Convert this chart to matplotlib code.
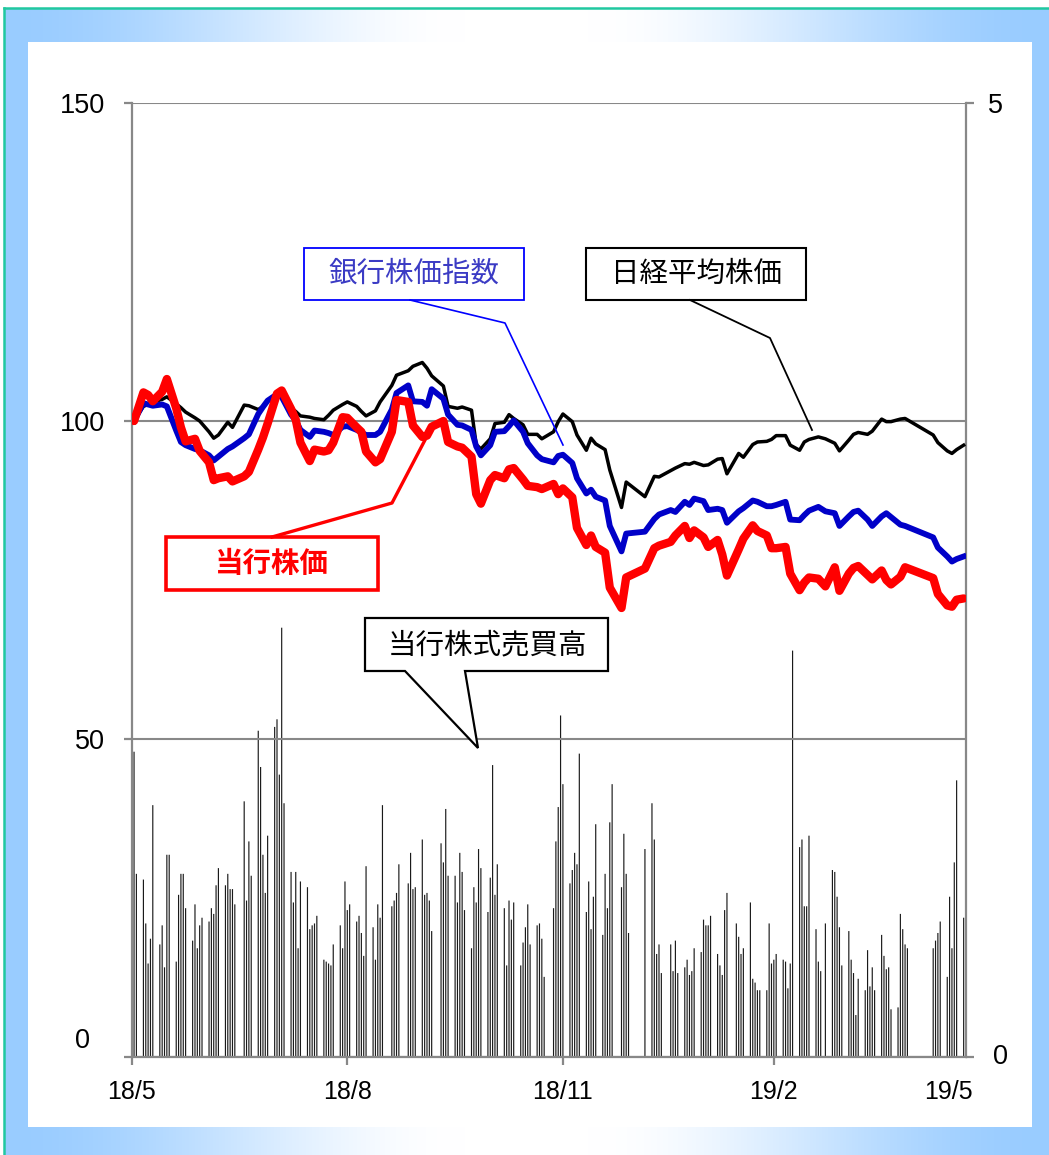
import numpy as np
import pandas as pd
import matplotlib
matplotlib.use("Agg")
import matplotlib.pyplot as plt
from matplotlib.patches import Rectangle, Polygon
from matplotlib.lines import Line2D

plt.rcParams["font.family"] = ["Liberation Sans", "Noto Sans CJK JP", "DejaVu Sans"]

W, H, DPI = 1049, 1155, 100

# ---------------------------------------------------------------- data
# Tokyo Stock Exchange closing days inside the period
tse_holidays = pd.to_datetime([
    "2018-07-16", "2018-09-17", "2018-09-24", "2018-10-08", "2018-11-23",
    "2018-12-24", "2018-12-31", "2019-01-01", "2019-01-02", "2019-01-03",
    "2019-01-14", "2019-02-11", "2019-03-21", "2019-04-29", "2019-04-30",
    "2019-05-01", "2019-05-02", "2019-05-03", "2019-05-06"])
trading_days = pd.bdate_range("2018-05-31", "2019-05-20")
trading_days = trading_days[~trading_days.isin(tse_holidays)]

# daily trading volume of the bank's shares (right axis)
volume = [
    1.60, 0.96,
    0.93, 0.70, 0.49, 0.62, 1.32,
    0.59, 0.69, 0.47, 1.06, 1.06,
    0.50, 0.85, 0.96, 0.96, 0.78,
    0.61, 0.80, 0.57, 0.69, 0.73,
    0.71, 0.78, 0.75, 0.90, 0.99,
    0.90, 0.96, 0.88, 0.88, 0.80,
    1.34, 0.82, 1.13, 0.95,
    1.71, 1.52, 1.06, 0.86, 1.16,
    1.73, 1.77, 1.48, 2.25, 1.33,
    0.97, 0.81, 0.97, 0.57, 0.92,
    0.89, 0.67, 0.69, 0.70, 0.74,
    0.51, 0.50, 0.49, 0.48, 0.59,
    0.69, 0.57, 0.92, 0.77, 0.80,
    0.71, 0.74, 0.65, 0.53, 1.00,
    0.68, 0.51, 0.80, 0.73, 1.32,
    0.79, 0.82, 0.86, 1.01,
    0.91, 1.07, 0.88, 0.89,
    1.14, 0.85, 0.86, 0.82, 0.66,
    1.12, 1.02, 1.30, 0.95,
    0.95, 0.81, 1.07, 0.97, 0.77,
    0.57, 0.89, 0.81, 1.09, 0.99,
    0.76, 0.94, 1.53, 0.85, 1.01,
    0.78, 0.48, 0.82, 0.72, 0.81,
    0.48, 0.60, 0.68, 0.80, 0.59,
    0.69, 0.70, 0.62, 0.42,
    0.78, 1.13, 1.31, 1.79, 1.43,
    0.91, 0.98, 1.07, 1.01, 1.59,
    0.76, 0.92, 0.67, 0.84, 1.22,
    0.64, 0.96, 0.78, 1.23, 1.43,
    0.89, 1.17, 0.96, 0.65,
    1.09,
    1.33, 1.14, 0.54, 0.59, 0.44,
    0.59, 0.45, 0.61, 0.44,
    0.47, 0.51, 0.43, 0.45, 0.57,
    0.55, 0.72, 0.69, 0.69, 0.74,
    0.54, 0.48, 0.43, 0.77, 0.86,
    0.70, 0.63, 0.54, 0.57,
    0.81, 0.41, 0.39, 0.35, 0.35,
    0.35, 0.70, 0.49, 0.51, 0.54,
    0.51, 0.50, 0.36, 0.49, 2.13,
    1.10, 1.14, 0.79, 0.79, 1.16,
    0.67, 0.50, 0.45, 0.70,
    0.98, 0.97, 0.84, 0.68, 0.48,
    0.66, 0.51, 0.44, 0.22, 0.41,
    0.35, 0.56, 0.37, 0.47, 0.35,
    0.64, 0.53, 0.46, 0.47, 0.25,
    0.26, 0.75, 0.67, 0.59, 0.57,
    0.57, 0.61, 0.65, 0.71,
    0.42, 0.84, 0.57, 1.02, 1.45,
    0.73,
]

# price series (2018/5/31 = 100), every second trading day plus the last one
line_days = trading_days[::2].append(trading_days[-1:])

nikkei = [
    100.0, 102.3, 102.6, 103.0, 103.4, 103.8, 102.7, 102.1, 101.4, 100.5,
    100.0, 98.3, 97.3, 97.8, 99.8, 99.0, 102.5, 102.4, 101.8, 102.3,
    103.2, 104.4, 104.4, 102.1, 101.5, 100.8, 100.6, 100.4, 100.2, 100.9,
    101.7, 102.6, 103.0, 102.3, 101.5, 100.8, 101.6, 103.0, 105.6, 107.2,
    107.9, 108.6, 109.2, 108.3, 107.1, 105.5, 102.3, 102.0, 102.2, 101.7,
    96.3, 95.6, 97.2, 99.6, 99.8, 101.0, 100.4, 99.4, 97.9, 97.9,
    97.2, 98.3, 99.9, 101.1, 99.9, 97.8, 95.4, 97.3, 96.4, 95.5,
    92.3, 86.4, 90.4, 88.1, 91.3, 91.2, 92.2, 92.6, 93.3, 93.2,
    93.5, 93.0, 93.1, 94.0, 94.1, 91.7, 94.9, 94.3, 96.3, 96.7,
    96.8, 97.1, 97.7, 97.7, 96.2, 95.4, 96.7, 97.1, 97.5, 97.2,
    96.5, 95.3, 97.0, 97.9, 98.2, 97.9, 98.4, 100.3, 99.9, 99.9,
    100.3, 100.4, 97.8, 96.6, 95.3, 94.9, 95.5, 96.2,
]

bank_index = [
    100.0, 102.8, 102.6, 102.4, 102.6, 102.3, 98.5, 96.7, 96.2, 95.6,
    95.4, 94.6, 93.8, 94.4, 95.6, 96.0, 97.3, 97.9, 101.1, 102.2,
    103.2, 104.2, 103.8, 101.0, 100.1, 98.6, 97.5, 98.5, 98.3, 98.1,
    97.8, 99.1, 99.2, 98.6, 98.2, 97.8, 97.8, 98.3, 101.8, 104.4,
    105.6, 103.1, 103.0, 102.4, 105.0, 103.5, 101.0, 99.4, 99.3, 98.6,
    96.0, 94.6, 96.2, 98.3, 98.4, 99.2, 100.1, 98.3, 96.5, 94.6,
    94.0, 93.5, 94.5, 94.7, 93.4, 91.0, 88.6, 89.2, 88.1, 87.5,
    83.5, 79.5, 82.3, 82.6, 84.6, 85.3, 86.0, 85.7, 87.3, 86.8,
    87.8, 87.4, 86.0, 86.2, 86.0, 84.0, 85.8, 86.3, 87.5, 87.3,
    86.6, 86.6, 86.8, 87.3, 84.5, 84.4, 85.2, 85.9, 86.5, 85.8,
    85.5, 83.5, 85.0, 85.7, 85.9, 84.5, 83.5, 85.0, 85.5, 84.9,
    83.7, 83.5, 81.7, 80.1, 78.7, 77.9, 78.3, 78.7,
]

own_stock = [
    100.0, 104.5, 104.1, 103.1, 104.6, 106.6, 102.0, 99.0, 96.8, 97.2,
    95.3, 93.5, 90.7, 91.0, 91.3, 90.5, 91.3, 92.0, 95.5, 97.4,
    99.6, 104.3, 104.8, 101.9, 100.2, 96.6, 93.7, 95.5, 95.2, 95.4,
    96.6, 100.6, 100.5, 99.0, 98.3, 95.2, 93.5, 94.0, 98.3, 103.3,
    103.0, 99.3, 97.5, 97.7, 99.1, 100.0, 96.7, 96.0, 95.8, 94.4,
    88.5, 87.0, 90.7, 91.5, 91.0, 92.4, 92.6, 90.8, 89.8, 89.6,
    89.3, 90.1, 88.5, 89.4, 88.0, 83.2, 80.5, 82.0, 80.2, 79.3,
    73.8, 70.6, 75.4, 76.8, 80.0, 80.4, 81.0, 82.0, 83.5, 81.6,
    82.8, 81.7, 80.2, 81.3, 79.0, 75.7, 79.8, 81.5, 83.6, 82.7,
    82.0, 80.0, 80.0, 80.2, 76.0, 73.4, 74.6, 75.4, 75.2, 74.0,
    77.0, 73.3, 76.0, 76.9, 77.2, 75.8, 75.1, 76.5, 75.0, 74.3,
    75.5, 77.0, 75.3, 72.8, 71.0, 70.8, 71.9, 72.1,
]

x_start, x_end = pd.Timestamp("2018-05-30"), pd.Timestamp("2019-05-21")
x_tick_dates = pd.to_datetime(["2018-05-30", "2018-08-30", "2018-11-30", "2019-02-28"])
x_tick_labels = ["18/5", "18/8", "18/11", "19/2"]
left_ticks = [0, 50, 100, 150]
right_ticks = [0, 5]

# ---------------------------------------------------------------- figure
fig = plt.figure(figsize=(W / DPI, H / DPI), dpi=DPI)
fig.patch.set_facecolor("white")

# backdrop in pixel coordinates: blue-white-blue horizontal gradient
bg = fig.add_axes([0, 0, 1, 1], zorder=-10)
bg.set_xlim(0, W)
bg.set_ylim(H, 0)
bg.set_axis_off()
xs = np.linspace(0.0, 1.0, W)
t = np.clip((np.abs(xs - 0.5) - 0.06) / 0.44, 0, 1)
wgt = t * t * (3 - 2 * t)
edge_blue = np.array([0.60, 0.80, 1.0])
row = (1 - wgt)[:, None] * np.ones(3) + wgt[:, None] * edge_blue
bg.imshow(np.tile(row[None, :, :], (8, 1, 1)), extent=[4, W, H, 8],
          aspect="auto", interpolation="bilinear", zorder=0)
bg.add_patch(Rectangle((28, 42), 1004, 1085, facecolor="white",
                       edgecolor="none", zorder=1))
bg.add_line(Line2D([4, 4], [8, H], color="#20C8A0", lw=1.8, zorder=2))
bg.add_line(Line2D([4, W], [8, 8], color="#20C8A0", lw=1.8, zorder=2))

# main axes
ax = fig.add_axes([131.7 / W, 1 - 1057 / H, (966 - 131.7) / W, (1057 - 103) / H])
ax2 = ax.twinx()
ax.set_zorder(2)
ax2.set_zorder(1)
ax.patch.set_visible(False)
ax2.patch.set_visible(False)

axis_grey = "#888888"

ax2.bar(trading_days, volume, width=0.5, color="#1a1a1a", linewidth=0, snap=False)
ax2.set_ylim(0, 5)
ax2.set_yticks(right_ticks)
ax2.set_yticklabels(["", "5"])

ax.plot(line_days, nikkei, color="black", lw=2.5, solid_joinstyle="round", zorder=3)
ax.plot(line_days, bank_index, color="#0000C8", lw=4.2, solid_joinstyle="round", zorder=4)
ax.plot(line_days, own_stock, color="#FF0000", lw=6.0, solid_joinstyle="round",
        solid_capstyle="round", zorder=5)

ax.set_ylim(0, 150)
ax.set_yticks(left_ticks)
ax.set_yticklabels(["", "50", "100", "150"])
ax.set_xlim(x_start, x_end)
ax.set_xticks(x_tick_dates)
ax.set_xticklabels(x_tick_labels)
ax.yaxis.grid(True, color=axis_grey, lw=1.5)
ax.set_axisbelow(False)

for a in (ax, ax2):
    for s in a.spines.values():
        s.set_color(axis_grey)
        s.set_linewidth(1.6)
    a.spines["top"].set_visible(False)
ax.spines["right"].set_visible(False)
ax2.spines["left"].set_visible(False)
ax2.spines["bottom"].set_visible(False)

ax.tick_params(axis="y", direction="out", length=6, width=1.6, color=axis_grey,
               labelsize=19.5, pad=13)
ax2.tick_params(axis="y", direction="out", length=6, width=1.6, color=axis_grey,
                labelsize=19.5, pad=10)
ax.tick_params(axis="x", direction="out", length=5.5, width=1.6, color=axis_grey,
               labelsize=18, pad=11)

# ---------------------------------------------------------------- overlay
ov = fig.add_axes([0, 0, 1, 1], zorder=10)
ov.set_xlim(0, W)
ov.set_ylim(H, 0)
ov.set_axis_off()
ov.patch.set_visible(False)

tick_font = dict(family=["Liberation Sans"], color="black")
ov.text(82, 1041, "0", fontsize=19.5, ha="center", va="center", **tick_font)
ov.text(1000, 1057, "0", fontsize=19.5, ha="center", va="center", **tick_font)
ov.text(948, 1092, "19/5", fontsize=18, ha="center", va="center", **tick_font)

cjk = ["Noto Sans CJK JP"]

# 銀行株価指数
ov.add_patch(Rectangle((304, 248), 220, 52, facecolor="white", edgecolor="#0000FF", lw=1.3))
ov.text(414, 274, "銀行株価指数", family=cjk, fontsize=20.5, color="#3B3BC4",
        ha="center", va="center")
ov.add_line(Line2D([410, 505, 563], [300, 323, 445], color="#0000FF", lw=1.2))

# 日経平均株価
ov.add_patch(Rectangle((586, 248), 220, 52, facecolor="white", edgecolor="black", lw=1.5))
ov.text(696, 274, "日経平均株価", family=cjk, fontsize=20.5, color="black",
        ha="center", va="center")
ov.add_line(Line2D([690, 770, 812], [300, 338, 430], color="black", lw=1.3))

# 当行株価
ov.add_patch(Rectangle((166, 537), 212, 53, facecolor="white", edgecolor="#FF0000", lw=2.6))
ov.text(272, 564, "当行株価", family=cjk, fontsize=20.5, color="#FF0000",
        fontweight="bold", ha="center", va="center")
ov.add_line(Line2D([272, 392, 425], [537, 503, 440], color="#FF0000", lw=2.4))

# 当行株式売買高 (callout with a wedge)
callout = [(365, 618), (608, 618), (608, 671), (465, 671), (478, 748),
           (405, 671), (365, 671)]
ov.add_patch(Polygon(callout, closed=True, facecolor="white", edgecolor="black",
                     lw=1.6, joinstyle="miter"))
ov.text(487, 645, "当行株式売買高", family=cjk, fontsize=20.5, color="black",
        ha="center", va="center")

fig.savefig("out.png", dpi=DPI)
